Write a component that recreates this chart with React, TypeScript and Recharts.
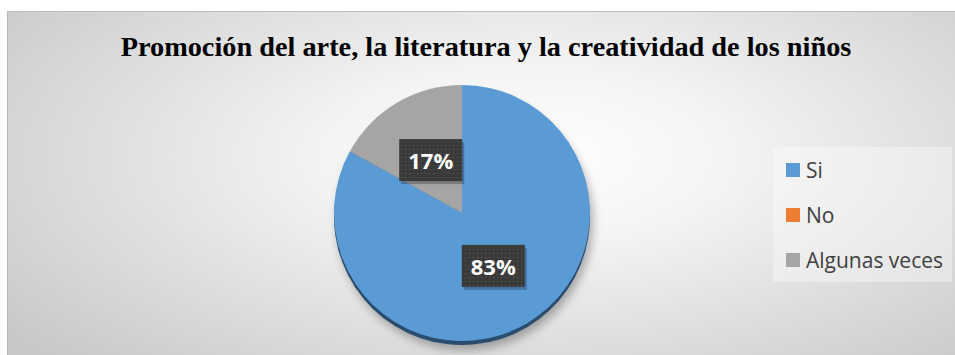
import { PieChart, Pie, Cell, Legend } from "recharts";

const categories = ["Si", "No", "Algunas veces"];
const values = [83, 0, 17];
const colors = ["#5b9bd5", "#ed7d31", "#a5a5a5"];
const shadeColors = ["#2a4d6e", "#8a4a1e", "#6d6d6d"];

const data = categories.map((name, i) => ({ name, value: values[i] }));

const RADIAN = Math.PI / 180;
const CHART_W = 947;
const CHART_H = 343;

function renderLabel(props: any) {
  const { cx, cy, midAngle, outerRadius, value, index } = props;
  if (!value) return null;
  const r = outerRadius * 0.48;
  const x = cx + r * Math.cos(-midAngle * RADIAN);
  const y = cy + r * Math.sin(-midAngle * RADIAN);
  const w = 63;
  const h = 42;
  return (
    <g key={`lbl-${index}`}>
      <defs>
        <pattern id={`dots-${index}`} width="4" height="4" patternUnits="userSpaceOnUse">
          <rect width="4" height="4" fill="#3a3a3a" />
          <rect x="1" y="1" width="1" height="1" fill="#5c5c5c" />
        </pattern>
      </defs>
      <rect x={x - w / 2 + 2} y={y - h / 2 + 3} width={w} height={h} fill="rgba(0,0,0,0.25)" />
      <rect x={x - w / 2} y={y - h / 2} width={w} height={h} fill={`url(#dots-${index})`} />
      <text
        x={x}
        y={y}
        fill="#ffffff"
        textAnchor="middle"
        dominantBaseline="central"
        style={{ fontFamily: "'Open Sans', sans-serif", fontWeight: 700, fontSize: 22 }}
      >
        {`${value}%`}
      </text>
    </g>
  );
}

// legend built from the category list so the shade pie does not show up twice
function LegendBox() {
  return (
    <div
      style={{
        width: 179,
        height: 135,
        background: "rgba(255,255,255,0.35)",
        boxSizing: "border-box",
        paddingLeft: 13,
      }}
    >
      {categories.map((name, i) => (
        <div key={name} style={{ display: "flex", alignItems: "center", height: 45 }}>
          <span
            style={{
              display: "inline-block",
              width: 14,
              height: 14,
              background: colors[i],
              marginRight: 6,
            }}
          />
          <span
            style={{
              fontFamily: "'Open Sans', sans-serif",
              fontSize: 21,
              color: "#404040",
              lineHeight: "26px",
            }}
          >
            {name}
          </span>
        </div>
      ))}
    </div>
  );
}

export default function App() {
  return (
    <div
      style={{
        position: "absolute",
        left: 0,
        top: 0,
        width: 955,
        height: 355,
        background: "#ffffff",
        overflow: "hidden",
      }}
    >
      <div
        style={{
          position: "absolute",
          left: 7,
          top: 11,
          width: CHART_W + 1,
          height: CHART_H + 1,
          borderLeft: "1px solid #b5b5b5",
          borderTop: "1px solid #bdbdbd",
          boxSizing: "border-box",
          background:
            "radial-gradient(ellipse 70% 85% at 55% 42%, #ffffff 0%, #f4f4f4 30%, #dedede 65%, #c8c8c8 100%)",
        }}
      >
        <div
          style={{
            position: "absolute",
            left: 0,
            top: 19,
            width: "100%",
            textAlign: "center",
            fontFamily: "'Liberation Serif', 'Times New Roman', serif",
            fontWeight: 700,
            fontSize: 28.3,
            color: "#000000",
            paddingLeft: 9,
            boxSizing: "border-box",
            whiteSpace: "nowrap",
          }}
        >
          Promoción del arte, la literatura y la creatividad de los niños
        </div>
        <PieChart
          width={CHART_W}
          height={CHART_H}
          margin={{ top: 0, right: 0, bottom: 0, left: 0 }}
          style={{ position: "absolute", left: 0, top: 0 }}
        >
          <Pie
            data={data}
            dataKey="value"
            nameKey="name"
            cx={454}
            cy={205}
            outerRadius={128}
            startAngle={90}
            endAngle={-270}
            stroke="none"
            isAnimationActive={false}
            legendType="none"
          >
            {data.map((d, i) => (
              <Cell
                key={`s-${d.name}`}
                fill={shadeColors[i]}
                style={{ filter: "drop-shadow(3px 5px 5px rgba(0,0,0,0.3))" }}
              />
            ))}
          </Pie>
          <Pie
            data={data}
            dataKey="value"
            nameKey="name"
            cx={454}
            cy={201}
            outerRadius={128}
            startAngle={90}
            endAngle={-270}
            stroke="none"
            label={renderLabel}
            labelLine={false}
            isAnimationActive={false}
          >
            {data.map((d, i) => (
              <Cell key={`c-${d.name}`} fill={colors[i]} />
            ))}
          </Pie>
          <Legend
            layout="vertical"
            content={<LegendBox />}
            wrapperStyle={{ position: "absolute", left: 765, top: 135, width: 179 }}
          />
        </PieChart>
      </div>
    </div>
  );
}
